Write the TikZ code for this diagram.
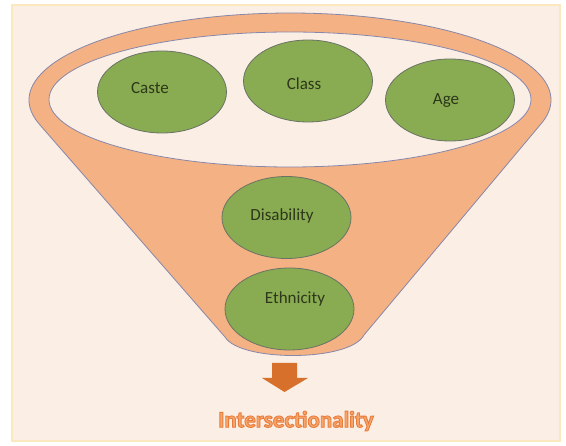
\documentclass[tikz,border=0pt]{standalone}
\usepackage{fontspec}
\setmainfont{Carlito}
\usetikzlibrary{shapes.geometric}

\definecolor{pagebg}{RGB}{251,238,229}
\definecolor{pageedge}{RGB}{250,232,190}
\definecolor{funnelfill}{RGB}{244,177,131}
\definecolor{funneledge}{RGB}{135,135,170}
\definecolor{bubblefill}{RGB}{137,172,82}
\definecolor{bubbleedge}{RGB}{105,115,100}
\definecolor{bubbletext}{RGB}{45,55,25}
\definecolor{arrowfill}{RGB}{214,112,42}
\definecolor{titlefill}{RGB}{246,166,108}

% outlined text: fill with the current colour, stroke in a darker orange
\newcommand{\outlinedtext}[1]{%
  \special{pdf:literal direct 2 Tr 0.9 w 0.910 0.486 0.227 RG}#1%
  \special{pdf:literal direct 0 Tr}}

\tikzset{
  funnelshape/.style={fill=funnelfill, draw=funneledge, line width=0.8pt},
  mouth/.style={fill=pagebg, draw=funneledge, line width=0.8pt},
  bubble/.style={ellipse, fill=bubblefill, draw=bubbleedge, line width=0.8pt,
                 inner sep=0pt, minimum width=129pt, minimum height=82pt},
  bubblelabel/.style={text=bubbletext, font=\fontsize{17}{20}\selectfont, inner sep=0pt},
  title/.style={text=titlefill, font=\fontsize{23}{26}\selectfont\bfseries, inner sep=0pt}
}

\begin{document}
\begin{tikzpicture}[x=1pt, y=-1pt]
  \useasboundingbox (0,0) rectangle (566,446);
  \fill[white] (0,0) rectangle (566,446);
  \draw[fill=pagebg, draw=pageedge, line width=1.5pt] (12,5) rectangle (560,441);

  % funnel: rim of the bowl plus the tapering cone
  \draw[funnelshape] (39.4,124.3)
      arc[start angle=163.8, end angle=375.6, x radius=261, y radius=87]
      -- (364,335) .. controls (350,362) and (240,362) .. (225,337) -- cycle;
  \draw[mouth] (290,99.5) ellipse [x radius=241, y radius=67.5];

  % factors
  \node[bubble] (caste) at (162,92) {};
  \node[bubble] (class) at (308,81) {};
  \node[bubble] (age) at (450,100) {};
  \node[bubble] (disability) at (286.5,217.5) {};
  \node[bubble] (ethnicity) at (289.5,309) {};

  \node[bubblelabel] (castetext) at (150,88) {Caste};
  \node[bubblelabel] (classtext) at (304,84) {Class};
  \node[bubblelabel] (agetext) at (446,101) {Age};
  \node[bubblelabel] (disabilitytext) at (282,216) {Disability};
  \node[bubblelabel] (ethnicitytext) at (295,299) {Ethnicity};

  % outlet arrow
  \fill[arrowfill] (272,363) -- (297,363) -- (297,378) -- (308,378)
      -- (284.5,392) -- (262,378) -- (272,378) -- cycle;

  \node[title] (result) at (296,421) {\outlinedtext{Intersectionality}};
\end{tikzpicture}
\end{document}
